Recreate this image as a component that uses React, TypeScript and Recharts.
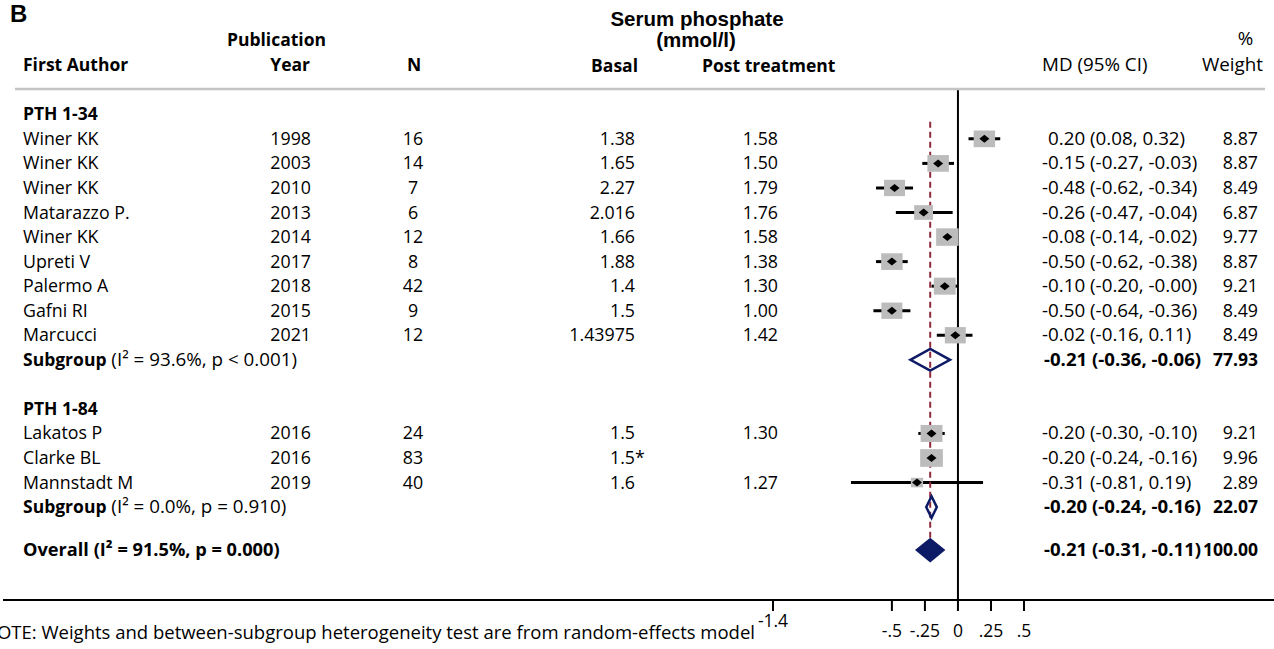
import React from 'react';
import { ScatterChart, Scatter, XAxis, YAxis, ErrorBar, ReferenceLine } from 'recharts';

// ---------- data ----------
const groupNames = ['PTH 1-34', 'PTH 1-84'];

const g1Authors = ['Winer KK', 'Winer KK', 'Winer KK', 'Matarazzo P.', 'Winer KK', 'Upreti V', 'Palermo A', 'Gafni RI', 'Marcucci'];
const g1Years = ['1998', '2003', '2010', '2013', '2014', '2017', '2018', '2015', '2021'];
const g1N = ['16', '14', '7', '6', '12', '8', '42', '9', '12'];
const g1Basal = ['1.38', '1.65', '2.27', '2.016', '1.66', '1.88', '1.4', '1.5', '1.43975'];
const g1Post = ['1.58', '1.50', '1.79', '1.76', '1.58', '1.38', '1.30', '1.00', '1.42'];
const g1MD = [0.2, -0.15, -0.48, -0.26, -0.08, -0.5, -0.1, -0.5, -0.02];
const g1Lo = [0.08, -0.27, -0.62, -0.47, -0.14, -0.62, -0.2, -0.64, -0.16];
const g1Hi = [0.32, -0.03, -0.34, -0.04, -0.02, -0.38, -0.004, -0.36, 0.11];
const g1Weight = [8.87, 8.87, 8.49, 6.87, 9.77, 8.87, 9.21, 8.49, 8.49];

const g2Authors = ['Lakatos P', 'Clarke BL', 'Mannstadt M'];
const g2Years = ['2016', '2016', '2019'];
const g2N = ['24', '83', '40'];
const g2Basal = ['1.5', '1.5*', '1.6'];
const g2Post = ['1.30', '', '1.27'];
const g2MD = [-0.2, -0.2, -0.31];
const g2Lo = [-0.3, -0.24, -0.81];
const g2Hi = [-0.1, -0.16, 0.19];
const g2Weight = [9.21, 9.96, 2.89];

const subgroupMD = [-0.21, -0.2];
const subgroupLo = [-0.36, -0.24];
const subgroupHi = [-0.06, -0.16];
const subgroupWeight = [77.93, 22.07];
const subgroupHet = ['(I\u00B2  = 93.6%, p < 0.001)', '(I\u00B2 = 0.0%, p = 0.910)'];

const overallMD = -0.21;
const overallLo = -0.31;
const overallHi = -0.11;
const overallWeight = 100.0;
const overallLabel = 'Overall (I\u00B2 = 91.5%, p = 0.000)';

const xTicks = [-1.4, -0.5, -0.25, 0, 0.25, 0.5];
const xTickLabels = ['-1.4', '-.5', '-.25', '0', '.25', '.5'];

const note = 'NOTE: Weights and between-subgroup heterogeneity test are from random-effects model';

// ---------- build rows ----------
type Row = {
  kind: 'group' | 'study' | 'subgroup' | 'overall';
  label?: string;
  year?: string;
  n?: string;
  basal?: string;
  post?: string;
  md?: number;
  lo?: number;
  hi?: number;
  weight?: number;
  het?: string;
};

const groups = [
  { authors: g1Authors, years: g1Years, n: g1N, basal: g1Basal, post: g1Post, md: g1MD, lo: g1Lo, hi: g1Hi, w: g1Weight },
  { authors: g2Authors, years: g2Years, n: g2N, basal: g2Basal, post: g2Post, md: g2MD, lo: g2Lo, hi: g2Hi, w: g2Weight },
];

const rows: Row[] = [];
groups.forEach((g, gi) => {
  rows.push({ kind: 'group', label: groupNames[gi] });
  g.authors.forEach((a, i) => {
    rows.push({
      kind: 'study', label: a, year: g.years[i], n: g.n[i], basal: g.basal[i], post: g.post[i],
      md: g.md[i], lo: g.lo[i], hi: g.hi[i], weight: g.w[i],
    });
  });
  rows.push({ kind: 'subgroup', label: 'Subgroup', het: subgroupHet[gi], md: subgroupMD[gi], lo: subgroupLo[gi], hi: subgroupHi[gi], weight: subgroupWeight[gi] });
});
rows.push({ kind: 'overall', label: overallLabel, md: overallMD, lo: overallLo, hi: overallHi, weight: overallWeight });

// row positions (in row units): a blank row before each new group, a shorter gap before the overall row
const GROUP_GAP = 2;
const OVERALL_GAP = 1.75;
let cursor = 0;
const rowData = rows.map((r, i) => {
  if (i > 0) {
    const prev = rows[i - 1];
    if (r.kind === 'overall') cursor += OVERALL_GAP;
    else if (prev.kind === 'subgroup') cursor += GROUP_GAP;
    else cursor += 1;
  }
  return { ...r, x: r.md ?? 0, y: cursor };
});
const studyData = rowData
  .filter((r) => r.kind === 'study')
  .map((r) => ({ ...r, err: [(r.md as number) - (r.lo as number), (r.hi as number) - (r.md as number)] }));

const DH = 0.44; // diamond half-height in row units
const summaryRows = rowData.filter((r) => r.kind === 'subgroup' || r.kind === 'overall');
const diamondSets = summaryRows.map((r) => ({
  filled: r.kind === 'overall',
  pts: [
    { x: r.lo as number, y: r.y },
    { x: r.md as number, y: r.y - DH },
    { x: r.hi as number, y: r.y },
    { x: r.md as number, y: r.y + DH },
  ],
}));
const overallY = rowData[rowData.length - 1].y;

// ---------- styles ----------
const FONT = "'Open Sans', sans-serif";
const ARIAL = "'Liberation Sans', Arial, sans-serif";
const FS = 17.8; // names, years, N, values, weights
const FS_WIDE = 18.8; // CI strings, het labels
const FS_BOLD = 17.5;
const NAVY = '#0d1a66';
const W = 1274;
const H = 649;

const fmt = (v: number) => v.toFixed(2);

function LabelShape(props: any) {
  const { cy, payload } = props;
  const r: Row = payload;
  if (!r || cy == null) return <g />;
  const base = cy + 6;
  const c = { fontFamily: FONT, fill: '#000' };
  const ci = r.md != null ? `${fmt(r.md)} (${fmt(r.lo as number)}, ${fmt(r.hi as number)})` : '';
  const ciX = 1042 + (r.md != null && r.md >= 0 ? 6 : 0);
  if (r.kind === 'group') {
    return (
      <g>
        <text x={23} y={base} {...c} fontSize={FS_BOLD} fontWeight={700}>{r.label}</text>
      </g>
    );
  }
  if (r.kind === 'study') {
    const basal = r.basal || '';
    const star = basal.endsWith('*');
    const basalMain = star ? basal.slice(0, -1) : basal;
    return (
      <g>
        <text x={23} y={base} {...c} fontSize={FS}>{r.label}</text>
        <text x={311} y={base} {...c} fontSize={FS} textAnchor="end">{r.year}</text>
        <text x={413} y={base} {...c} fontSize={FS} textAnchor="middle">{r.n}</text>
        <text x={635} y={base} {...c} fontSize={FS} textAnchor="end">{basalMain}</text>
        {star && <text x={635} y={base} {...c} fontSize={FS}>*</text>}
        <text x={778} y={base} {...c} fontSize={FS} textAnchor="end">{r.post}</text>
        <text x={ciX} y={base} {...c} fontSize={FS_WIDE}>{ci}</text>
        <text x={1258} y={base} {...c} fontSize={FS} textAnchor="end">{fmt(r.weight as number)}</text>
      </g>
    );
  }
  if (r.kind === 'subgroup') {
    return (
      <g>
        <text x={23} y={base} {...c} fontSize={FS_WIDE}>
          <tspan fontWeight={700} fontSize={FS_BOLD}>{r.label}</tspan>
          <tspan> {r.het}</tspan>
        </text>
        <text x={1044} y={base} {...c} fontSize={18.6} fontWeight={700}>{ci}</text>
        <text x={1258} y={base} {...c} fontSize={FS_BOLD} fontWeight={700} textAnchor="end">{fmt(r.weight as number)}</text>
      </g>
    );
  }
  // overall
  return (
    <g>
      <text x={23} y={base} {...c} fontSize={18.2} fontWeight={700}>{r.label}</text>
      <text x={1044} y={base} {...c} fontSize={18.6} fontWeight={700}>{ci}</text>
      <text x={1258} y={base} {...c} fontSize={FS_BOLD} fontWeight={700} textAnchor="end">{fmt(r.weight as number)}</text>
    </g>
  );
}

function SquareShape(props: any) {
  const { cx, cy, payload } = props;
  if (cx == null || cy == null) return <g />;
  const s = Math.sqrt(payload.weight);
  const w = 7.2 * s;
  const h = 5.6 * s;
  return <rect x={cx - w / 2} y={cy - h / 2} width={w} height={h} fill="#bcbcbc" />;
}

function PointShape(props: any) {
  const { cx, cy } = props;
  if (cx == null || cy == null) return <g />;
  return <polygon points={`${cx - 5},${cy} ${cx},${cy - 4} ${cx + 5},${cy} ${cx},${cy + 4}`} fill="#000" />;
}

const EmptyShape = () => <g />;

function DiamondPoly(props: any) {
  const { points, fillColor, strokeColor } = props;
  if (!points || points.length < 4) return <g />;
  const pts = points.map((p: any) => `${p.x},${p.y}`).join(' ');
  return <polygon points={pts} fill={fillColor} stroke={strokeColor} strokeWidth={2.5} strokeLinejoin="miter" />;
}

function AxisTick(props: any) {
  const { x, y, index } = props;
  const raised = index === 0;
  return (
    <text x={x} y={y + (raised ? 14 : 24)} textAnchor="middle" fontFamily={FONT} fontSize={17.5} fill="#000">
      {xTickLabels[index]}
    </text>
  );
}

export default function App() {
  const hdr = { fontFamily: FONT, fill: '#000' };
  return (
    <div style={{ position: 'absolute', left: 0, top: 0, width: W, height: H, background: '#fff' }}>
      <ScatterChart width={W} height={H} margin={{ top: 89, right: 250, bottom: 0, left: 773 }}>
        <XAxis
          type="number"
          dataKey="x"
          domain={[-1.4, 0.5]}
          ticks={xTicks}
          interval={0}
          tick={<AxisTick />}
          tickSize={11}
          tickLine={{ stroke: '#000', strokeWidth: 2 }}
          axisLine={{ stroke: '#000', strokeWidth: 2 }}
          height={49}
        />
        <YAxis type="number" dataKey="y" domain={[-1.031, 19.784]} reversed hide />
        <ReferenceLine x={0} stroke="#000" strokeWidth={2} />
        <Scatter data={studyData} shape={SquareShape} isAnimationActive={false} />
        <Scatter data={studyData} shape={PointShape} isAnimationActive={false}>
          <ErrorBar dataKey="err" direction="x" width={0} stroke="#000" strokeWidth={3} />
        </Scatter>
        <ReferenceLine
          segment={[{ x: overallMD, y: 0.3 }, { x: overallMD, y: overallY + DH }]}
          stroke="#8e2a3c"
          strokeWidth={2}
          strokeDasharray="6 4"
        />
        {diamondSets.map((d, i) => (
          <Scatter
            key={i}
            data={d.pts}
            shape={EmptyShape}
            lineType="joint"
            line={<DiamondPoly fillColor={d.filled ? NAVY : 'none'} strokeColor={NAVY} />}
            isAnimationActive={false}
          />
        ))}
        <Scatter data={rowData} shape={LabelShape} isAnimationActive={false} />
      </ScatterChart>
      <svg width={W} height={H} style={{ position: 'absolute', left: 0, top: 0, pointerEvents: 'none' }}>
        <text x={10} y={22} fontFamily={ARIAL} fontWeight={700} fontSize={24}>B</text>
        <text x={276.5} y={46} {...hdr} fontSize={FS_BOLD} fontWeight={700} textAnchor="middle">Publication</text>
        <text x={23} y={71} {...hdr} fontSize={FS_BOLD} fontWeight={700}>First Author</text>
        <text x={310} y={71} {...hdr} fontSize={FS_BOLD} fontWeight={700} textAnchor="end">Year</text>
        <text x={414} y={71} {...hdr} fontSize={FS_BOLD} fontWeight={700} textAnchor="middle">N</text>
        <text x={697} y={26} fontFamily={ARIAL} fontWeight={700} fontSize={20.5} textAnchor="middle">Serum phosphate</text>
        <text x={696} y={47} fontFamily={ARIAL} fontWeight={700} fontSize={20.5} textAnchor="middle">(mmol/l)</text>
        <text x={638} y={72} {...hdr} fontSize={FS_BOLD} fontWeight={700} textAnchor="end">Basal</text>
        <text x={702} y={72} {...hdr} fontSize={FS_BOLD} fontWeight={700}>Post treatment</text>
        <text x={1042} y={71} {...hdr} fontSize={FS_WIDE}>MD (95% CI)</text>
        <text x={1245.5} y={45} {...hdr} fontSize={FS_WIDE} textAnchor="middle">%</text>
        <text x={1263} y={71} {...hdr} fontSize={FS_WIDE} textAnchor="end">Weight</text>
        <line x1={15} y1={89} x2={1265} y2={89} stroke="#c4c4c4" strokeWidth={2.5} />
        <line x1={3} y1={600} x2={W} y2={600} stroke="#000" strokeWidth={2} />
        <text x={755} y={639} {...hdr} fontSize={18.5} textAnchor="end">{note}</text>
      </svg>
    </div>
  );
}
